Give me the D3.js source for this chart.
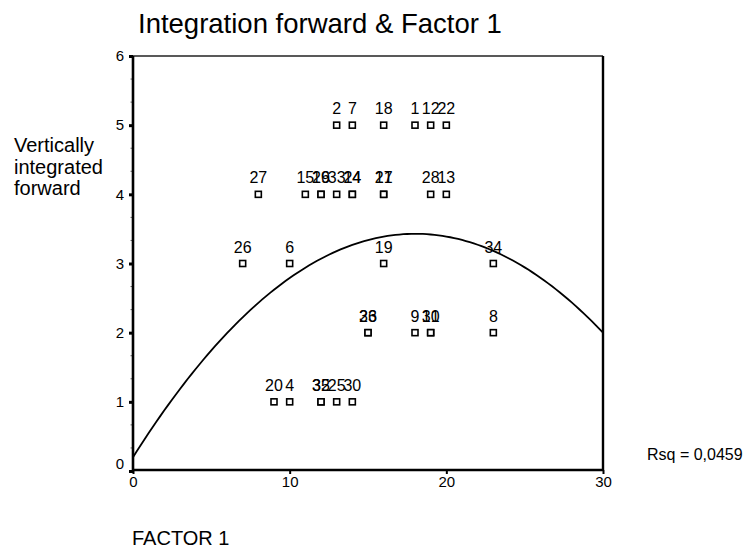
<!DOCTYPE html>
<html>
<head>
<meta charset="utf-8">
<script src="https://cdn.jsdelivr.net/npm/d3@7"></script>
<style>
  html, body { margin: 0; padding: 0; background: #fff; }
  svg { display: block; font-family: "Liberation Sans", Arial, sans-serif; }
</style>
</head>
<body>
<svg id="chart" width="745" height="553"></svg>
<script>
// Case scores: FACTOR 1 (x), integration forward (y), case number (label)
const factor1 = [13, 14, 16, 18, 19, 20,
                 8, 11, 12, 12, 13, 14, 14, 16, 16, 19, 20,
                 7, 10, 16, 23,
                 15, 15, 18, 19, 19, 23,
                 9, 10, 12, 12, 13, 14];
const integration = [5, 5, 5, 5, 5, 5,
                     4, 4, 4, 4, 4, 4, 4, 4, 4, 4, 4,
                     3, 3, 3, 3,
                     2, 2, 2, 2, 2, 2,
                     1, 1, 1, 1, 1, 1];
const caseLabels = ["2", "7", "18", "1", "12", "22",
                    "27", "15", "29", "16", "33", "14", "24", "21", "17", "28", "13",
                    "26", "6", "19", "34",
                    "36", "23", "9", "10", "31", "8",
                    "20", "4", "35", "32", "25", "30"];

// Quadratic fit: b0 + b1*x + b2*x^2
const fitCoefficients = [0.2, 0.3585, -0.00995];
const rsqText = "Rsq = 0,0459";

const xTicks = [0, 10, 20, 30];
const yTicks = [0, 1, 2, 3, 4, 5, 6];

const svg = d3.select("#chart");
const x = d3.scaleLinear().domain([0, 30]).range([133, 603]);
const y = d3.scaleLinear().domain([0, 6]).range([471, 56]);
const axisY = 470;

// Title
svg.append("text").attr("x", 138).attr("y", 33)
  .attr("font-size", 27.5).attr("fill", "#000")
  .text("Integration forward & Factor 1");

// Y-axis title
const yTitle = svg.append("text").attr("font-size", 20).attr("fill", "#000");
["Vertically", "integrated", "forward"].forEach((t, i) => {
  yTitle.append("tspan").attr("x", 14).attr("y", 152 + i * 21.5).text(t);
});

// Frame: top and right edges
svg.append("line").attr("x1", x(0)).attr("x2", x(30)).attr("y1", y(6)).attr("y2", y(6))
  .attr("stroke", "#222").attr("stroke-width", 1.6);
svg.append("line").attr("x1", x(30)).attr("x2", x(30)).attr("y1", y(6)).attr("y2", axisY)
  .attr("stroke", "#000").attr("stroke-width", 2.4);

// Minor ticks along the y axis (thirds of a unit)
const minorY = d3.range(0, 6.001, 1 / 3).filter(v => Math.abs(v - Math.round(v)) > 0.01);
svg.append("g").selectAll("line").data(minorY).join("line")
  .attr("x1", x(0) - 2.5).attr("x2", x(0)).attr("y1", d => y(d)).attr("y2", d => y(d))
  .attr("stroke", "#666").attr("stroke-width", 1);

// Y axis
const yAxis = svg.append("g").attr("transform", `translate(${x(0)},0)`)
  .call(d3.axisLeft(y).tickValues(yTicks).tickSize(4).tickFormat(d3.format("d")));
yAxis.select(".domain").attr("stroke-width", 2.6).attr("d", `M0,${y(6)}V${axisY}`);
yAxis.selectAll(".tick line").attr("stroke-width", 3);
yAxis.selectAll(".tick text").attr("font-size", 15).attr("font-family", "Liberation Sans, Arial, sans-serif")
  .attr("x", -9).attr("dy", d => d === 0 ? "-0.15em" : "0.32em");

// X axis
const xAxis = svg.append("g").attr("transform", `translate(0,${axisY})`)
  .call(d3.axisBottom(x).tickValues(xTicks).tickSize(4).tickFormat(d3.format("d")));
xAxis.select(".domain").attr("stroke-width", 2.6).attr("d", `M${x(0)},0H${x(30)}`);
xAxis.selectAll(".tick line").attr("stroke-width", 2);
xAxis.selectAll(".tick text").attr("font-size", 15).attr("font-family", "Liberation Sans, Arial, sans-serif")
  .attr("y", 6);

// Fitted curve
const curveXs = d3.range(0, 30.01, 0.25);
const fit = v => fitCoefficients[0] + fitCoefficients[1] * v + fitCoefficients[2] * v * v;
svg.append("path")
  .attr("d", d3.line().x(v => x(v)).y(v => y(fit(v)))(curveXs))
  .attr("fill", "none").attr("stroke", "#000").attr("stroke-width", 1.8);

// Points and case labels
const pts = factor1.map((v, i) => ({ fx: v, iy: integration[i], label: caseLabels[i] }));
svg.append("g").selectAll("rect").data(pts).join("rect")
  .attr("x", d => x(d.fx) - 3).attr("y", d => y(d.iy) - 3)
  .attr("width", 6).attr("height", 6)
  .attr("fill", "#fff").attr("stroke", "#000").attr("stroke-width", 1.6);
svg.append("g").selectAll("text").data(pts).join("text")
  .attr("x", d => x(d.fx)).attr("y", d => y(d.iy) - 11)
  .attr("text-anchor", "middle").attr("font-size", 16).attr("fill", "#000")
  .text(d => d.label);

// R-square note
svg.append("text").attr("x", 647).attr("y", 460).attr("font-size", 16).attr("fill", "#000")
  .text(rsqText);

// X-axis title
svg.append("text").attr("x", 132).attr("y", 545).attr("font-size", 20).attr("fill", "#000")
  .text("FACTOR 1");
</script>
</body>
</html>
